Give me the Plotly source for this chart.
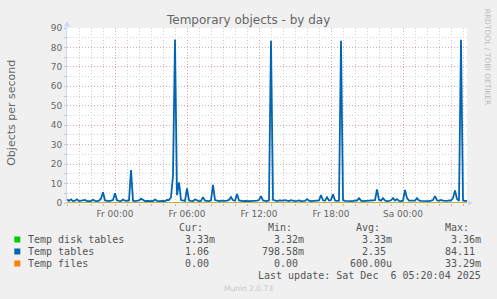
import pandas as pd
import plotly.graph_objects as go

# ---------------- data ----------------
start_time = "2025-12-04 20:00"
end_time = "2025-12-06 05:20"

temp_tables = [
    1.8, 1.1, 1.9, 1.0, 1.2, 1.9, 1.0, 1.1, 1.2, 1.6,
    1.0, 1.1, 1.0, 1.7, 1.1, 1.0, 1.2, 2.2, 5.5, 1.3,
    1.1, 1.0, 1.2, 1.5, 5.0, 1.4, 1.1, 1.0, 1.8, 1.2,
    1.1, 1.3, 17.0, 1.2, 1.0, 1.1, 1.3, 2.2, 1.4, 1.0,
    1.1, 1.0, 1.2, 1.0, 1.8, 1.1, 1.0, 1.2, 1.1, 1.0,
    1.6, 1.5, 3.0, 14.0, 84.1, 4.0, 10.6, 1.5, 1.2, 1.1,
    7.5, 1.3, 1.1, 1.0, 1.8, 1.2, 1.0, 1.1, 3.0, 1.2,
    1.1, 1.0, 1.4, 9.3, 1.5, 1.1, 1.0, 1.2, 1.0, 1.1,
    1.2, 1.6, 3.0, 1.4, 1.2, 4.6, 1.3, 1.1, 1.0, 1.1,
    1.0, 1.2, 1.0, 1.1, 1.0, 1.2, 1.5, 3.5, 1.3, 1.1,
    1.0, 1.4, 83.5, 1.6, 1.1, 1.0, 1.3, 1.1, 1.2, 1.5,
    1.1, 1.0, 1.5, 1.2, 1.0, 1.1, 1.3, 1.0, 1.2, 1.1,
    2.0, 1.2, 1.0, 1.1, 1.0, 1.2, 1.3, 4.1, 1.4, 1.2,
    3.0, 1.3, 1.5, 4.5, 1.3, 1.1, 1.2, 83.5, 1.5, 1.1,
    1.0, 1.2, 1.1, 1.0, 1.3, 1.2, 2.5, 1.2, 1.0, 1.1,
    1.0, 1.2, 1.1, 1.3, 1.5, 7.0, 1.6, 1.2, 2.5, 1.3,
    1.0, 1.1, 1.4, 2.5, 1.3, 2.0, 1.1, 1.0, 1.2, 6.7,
    2.5, 1.2, 1.1, 1.0, 1.2, 2.5, 1.3, 1.1, 1.0, 1.2,
    1.1, 1.0, 1.2, 1.5, 3.5, 1.4, 1.1, 1.6, 1.2, 1.0,
    1.1, 1.3, 1.2, 2.5, 6.5, 2.0, 1.2, 84.0, 1.3, 1.1,
    1.06,
]
temp_disk_tables = [0.00333, 0.00333]   # flat over the whole range
temp_files = [0.0, 0.0]                 # flat over the whole range

tick_times = ["2025-12-05 00:00", "2025-12-05 06:00", "2025-12-05 12:00",
              "2025-12-05 18:00", "2025-12-06 00:00"]
tick_labels = ["Fr 00:00", "Fr 06:00", "Fr 12:00", "Fr 18:00", "Sa 00:00"]

series_names = ["Temp disk tables", "Temp tables", "Temp files"]
series_colors = ["#00CC00", "#0066B3", "#FF8000"]
cur_vals = ["3.33m", "1.06", "0.00"]
min_vals = ["3.32m", "798.58m", "0.00"]
avg_vals = ["3.33m", "2.35", "600.00u"]
max_vals = ["3.36m", "84.11", "33.29m"]
headers = ["Cur:", "Min:", "Avg:", "Max:"]

# ---------------- layout helpers ----------------
W, H = 497, 299
L, R, T, B = 66.7, 466.7, 28.0, 203.0


def px(x):
    return (x - L) / (R - L)


def py(y):
    return (B - y) / (B - T)


times = pd.date_range(start_time, periods=len(temp_tables), freq="10min")
flat_times = [start_time, end_time]

fig = go.Figure()
fig.add_trace(go.Scatter(x=flat_times, y=temp_disk_tables, mode="lines",
                         line=dict(color=series_colors[0], width=1), hoverinfo="skip"))
fig.add_trace(go.Scatter(x=times, y=temp_tables, mode="lines",
                         line=dict(color=series_colors[1], width=1.8), hoverinfo="skip"))
fig.add_trace(go.Scatter(x=flat_times, y=temp_files, mode="lines",
                         line=dict(color=series_colors[2], width=1.1), hoverinfo="skip"))

grid_major = "#E8A8A8"
grid_minor = "#D0D0D0"
dash = "1px,2px"
font_col = "#666666"

fig.update_layout(
    width=W, height=H,
    margin=dict(l=L, r=W - R, t=T, b=H - B, pad=0),
    paper_bgcolor="#F0F0F0", plot_bgcolor="#FFFFFF",
    showlegend=False,
    font=dict(family="DejaVu Sans", size=9, color=font_col),
    xaxis=dict(
        type="date", range=[start_time, end_time],
        tickmode="array", tickvals=tick_times, ticktext=tick_labels,
        showgrid=True, gridcolor=grid_major, griddash=dash, gridwidth=1,
        ticks="outside", ticklen=2, tickcolor=grid_major,
        tickfont=dict(size=9, color=font_col),
        minor=dict(dtick=3600000, tick0=start_time, showgrid=True,
                   gridcolor=grid_minor, griddash=dash, gridwidth=1,
                   ticks="outside", ticklen=2, tickcolor=grid_major),
        showline=False, zeroline=False, fixedrange=True,
    ),
    yaxis=dict(
        range=[0, 90], dtick=10, tick0=0,
        showgrid=True, gridcolor=grid_major, griddash=dash, gridwidth=1,
        ticks="outside", ticklen=2, tickcolor="#C8C8C8",
        tickfont=dict(size=9, color=font_col),
        minor=dict(dtick=5, showgrid=True, gridcolor=grid_minor, griddash=dash,
                   gridwidth=1, ticks="outside", ticklen=2, tickcolor="#C8C8C8"),
        showline=True, linecolor="#CFD6F8", linewidth=1,
        zeroline=False, fixedrange=True,
    ),
)

shapes = []
# y-axis arrow
shapes.append(dict(type="line", xref="paper", yref="paper", x0=0, x1=0,
                   y0=1, y1=py(24), line=dict(color="#CFD6F8", width=1)))
shapes.append(dict(type="path", xref="paper", yref="paper",
                   path=f"M {px(L-3)} {py(26.5)} L {px(L+3)} {py(26.5)} L {px(L)} {py(21)} Z",
                   fillcolor="#CFD6F8", line=dict(width=0)))
# x-axis arrow
shapes.append(dict(type="path", xref="paper", yref="paper",
                   path=f"M {px(467.5)} {py(200.5)} L {px(467.5)} {py(205.5)} L {px(473)} {py(203)} Z",
                   fillcolor="#CFD6F8", line=dict(width=0)))
# legend squares
row_y = [239.5, 251.5, 263.5]
for c, yy in zip(series_colors, row_y):
    shapes.append(dict(type="rect", xref="paper", yref="paper",
                       x0=px(14), x1=px(20), y0=py(yy - 3), y1=py(yy + 3),
                       fillcolor=c, line=dict(width=0)))

ann = []
# title
ann.append(dict(text="Temporary objects - by day", x=px(248), y=py(19.5), xref="paper", yref="paper",
                showarrow=False, xanchor="center", yanchor="middle",
                font=dict(family="DejaVu Sans", size=12, color=font_col)))
# y title
ann.append(dict(text="Objects per second", x=px(10.5), y=py(113), xref="paper", yref="paper",
                showarrow=False, xanchor="center", yanchor="middle", textangle=-90,
                font=dict(family="DejaVu Sans", size=11, color=font_col)))
# rrdtool vertical text
ann.append(dict(text="RRDTOOL / TOBI OETIKER", x=px(488), y=py(57), xref="paper", yref="paper",
                showarrow=False, xanchor="center", yanchor="middle", textangle=90,
                font=dict(family="DejaVu Sans", size=7.5, color="#BBBBBB")))

mono = dict(family="DejaVu Sans Mono", size=10, color="#555555")
col_right = [217, 306, 394, 482.7]
for h, xr in zip(headers, col_right):
    ann.append(dict(text=h, x=px(xr - 12.5), y=py(227.5), xref="paper", yref="paper",
                    showarrow=False, xanchor="right", yanchor="middle", font=mono))
for i, name in enumerate(series_names):
    yy = row_y[i]
    ann.append(dict(text=name, x=px(26), y=py(yy), xref="paper", yref="paper",
                    showarrow=False, xanchor="left", yanchor="middle", font=mono))
    for vals, xr in zip([cur_vals, min_vals, avg_vals, max_vals], col_right):
        v = vals[i]
        xx = xr if v[-1].isalpha() else xr - 6.0
        ann.append(dict(text=v, x=px(xx), y=py(yy), xref="paper", yref="paper",
                        showarrow=False, xanchor="right", yanchor="middle", font=mono))
ann.append(dict(text="Last update: Sat Dec&nbsp;&nbsp;6 05:20:04 2025", x=px(482.7), y=py(275.5),
                xref="paper", yref="paper", showarrow=False, xanchor="right", yanchor="middle",
                font=mono))
ann.append(dict(text="Munin 2.0.73", x=px(248), y=py(288), xref="paper", yref="paper",
                showarrow=False, xanchor="center", yanchor="middle",
                font=dict(family="DejaVu Sans", size=7.5, color="#C8C8C8")))

fig.update_layout(shapes=shapes, annotations=ann)
fig.write_html("out.html", include_plotlyjs=True, config={"displayModeBar": False})
